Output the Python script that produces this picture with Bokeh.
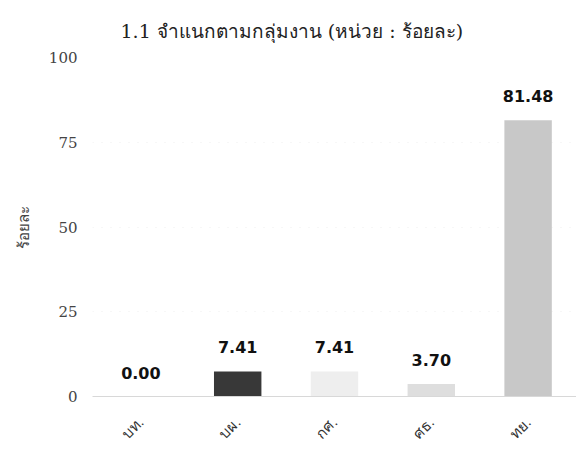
from bokeh.plotting import figure
from bokeh.models import ColumnDataSource, FixedTicker, Range1d, LabelSet
from bokeh.core.properties import value
from bokeh.embed import file_html
from bokeh.resources import INLINE
import math

categories = ["บท.", "บผ.", "กศ.", "ศธ.", "ทย."]
values = [0.00, 7.41, 7.41, 3.70, 81.48]
value_labels = ["0.00", "7.41", "7.41", "3.70", "81.48"]
colors = ["#9a9a9a", "#383838", "#eeeeee", "#dedede", "#c8c8c8"]
y_ticks = [0, 25, 50, 75, 100]
title_text = "1.1 จำแนกตามกลุ่มงาน (หน่วย : ร้อยละ)"

src = ColumnDataSource(dict(cat=categories, val=values, lab=value_labels, col=colors))

p = figure(x_range=categories, y_range=Range1d(0, 100), width=576, height=451,
           output_backend="svg", toolbar_location=None,
           min_border_left=92, min_border_right=0, min_border_top=57, min_border_bottom=40)
p.outline_line_color = None
p.background_fill_color = "white"

p.vbar(x="cat", top="val", width=0.49, source=src, fill_color="col", line_color=None)

labels = LabelSet(x="cat", y="val", text="lab", source=src, text_align="center",
                  text_baseline="bottom", y_offset=18, text_font_size="16px",
                  text_font_style="bold", text_color="#111111",
                  text_font=value("DejaVu Sans"))
p.add_layout(labels)

p.title.text = title_text
p.title.align = "left"
p.title.offset = 28
p.title.standoff = 31
p.title.text_font_size = "19px"
p.title.text_font_style = "normal"
p.title.text_font = "DejaVu Serif"
p.title.text_color = "#222222"

p.yaxis.ticker = FixedTicker(ticks=y_ticks)
p.yaxis.axis_line_color = None
p.yaxis.major_tick_line_color = None
p.yaxis.minor_tick_line_color = None
p.yaxis.major_label_text_font_size = "15px"
p.yaxis.major_label_text_font = "DejaVu Serif"
p.yaxis.major_label_text_color = "#444444"
p.yaxis.major_label_standoff = 9
p.yaxis.axis_label = "ร้อยละ"
p.yaxis.axis_label_text_font_size = "15px"
p.yaxis.axis_label_text_font_style = "normal"
p.yaxis.axis_label_text_color = "#444444"
p.yaxis.axis_label_standoff = 14

p.xaxis.axis_line_color = "#d8d8d8"
p.xaxis.major_tick_line_color = None
p.xaxis.minor_tick_line_color = None
p.xaxis.major_label_orientation = math.pi / 4
p.xaxis.major_label_text_font_size = "15px"
p.xaxis.major_label_text_color = "#333333"
p.xaxis.major_label_standoff = 17

p.xgrid.grid_line_color = None
p.ygrid.grid_line_color = "#eeeeee"
p.ygrid.grid_line_dash = "1 8"

open("out.html", "w").write(file_html(p, INLINE))
